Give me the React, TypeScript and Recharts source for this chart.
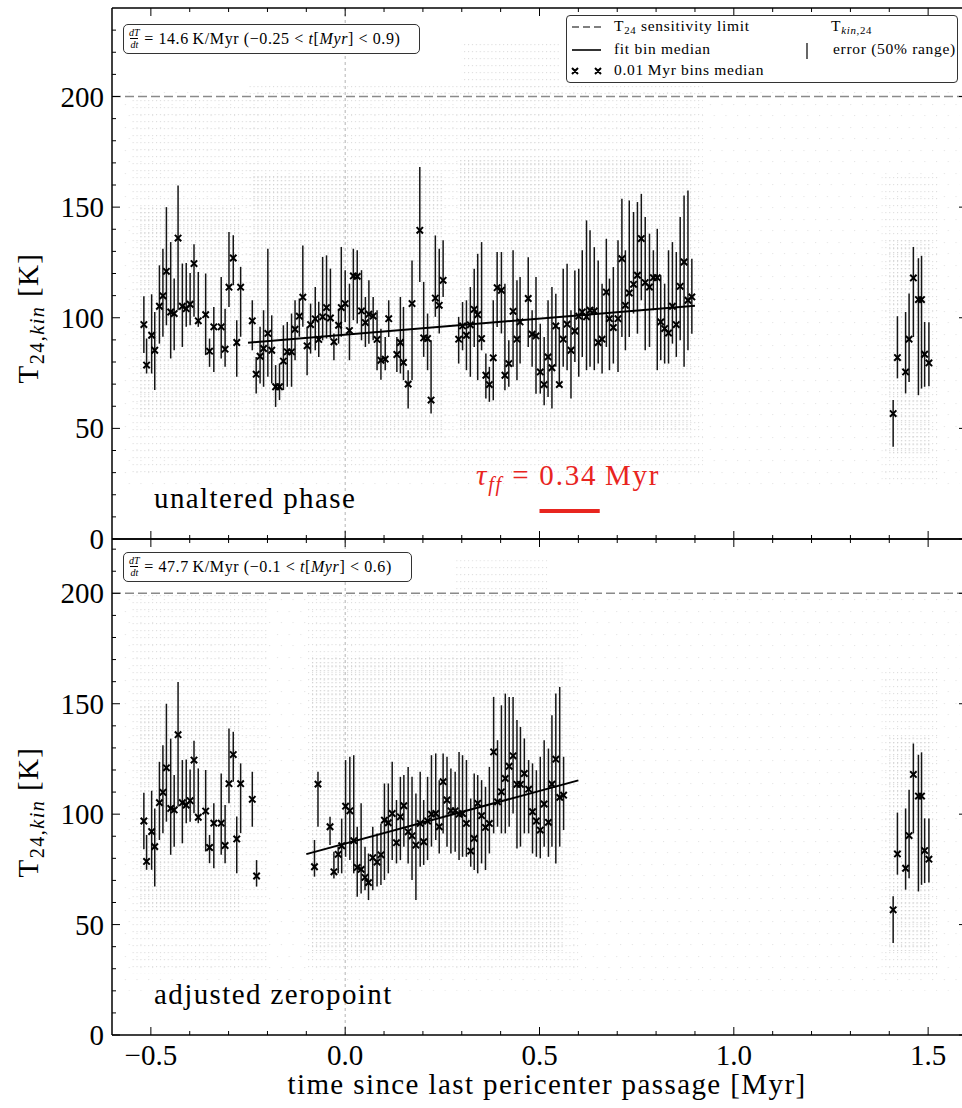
import React from 'react';
import {
  ComposedChart,
  Scatter,
  ErrorBar,
  Line,
  XAxis,
  YAxis,
  ReferenceLine,
  ReferenceArea,
} from 'recharts';

const FONT = '"Liberation Serif", "DejaVu Serif", serif';

// rows: [time (Myr), median T, lower 25%, upper 75%]
type Row = [number, number, number, number];

const leftCluster: Row[] = [
  [-0.518, 96.9, 84.1, 109.7],
  [-0.511, 78.6, 74.8, 90.6],
  [-0.498, 92.1, 74.8, 110.6],
  [-0.49, 85.3, 67.3, 102.6],
  [-0.478, 105.2, 88.3, 123.7],
  [-0.469, 109.9, 91.4, 131.2],
  [-0.46, 121.0, 96.6, 150.0],
  [-0.449, 102.6, 81.6, 134.2],
  [-0.44, 101.9, 85.3, 117.7],
  [-0.43, 136.0, 103.4, 159.8],
  [-0.419, 105.2, 86.8, 124.5],
  [-0.409, 104.1, 95.9, 124.8],
  [-0.399, 106.1, 96.6, 120.2],
  [-0.389, 124.5, 100.4, 133.2],
  [-0.378, 98.6, 95.9, 120.7],
  [-0.359, 101.4, 83.1, 120.0],
  [-0.349, 84.9, 77.8, 90.6],
  [-0.338, 95.9, 75.5, 104.9],
  [-0.319, 95.9, 81.6, 118.4],
  [-0.309, 85.8, 77.8, 104.1],
  [-0.299, 113.8, 104.9, 138.8],
  [-0.288, 127.0, 114.7, 137.3],
  [-0.279, 88.8, 73.3, 98.9],
  [-0.269, 113.8, 91.4, 123.0],
];

const topMiddle: Row[] = [
  [-0.239, 98.6, 85.3, 107.9],
  [-0.229, 74.5, 65.8, 82.3],
  [-0.219, 82.6, 70.3, 95.9],
  [-0.21, 86.1, 68.8, 103.4],
  [-0.199, 92.9, 73.3, 131.2],
  [-0.189, 85.3, 70.3, 101.1],
  [-0.179, 68.8, 59.7, 78.6],
  [-0.169, 68.8, 62.8, 79.3],
  [-0.159, 80.4, 67.3, 96.6],
  [-0.149, 84.6, 68.8, 98.1],
  [-0.138, 84.6, 68.8, 101.9],
  [-0.129, 94.8, 80.8, 107.9],
  [-0.118, 100.7, 91.4, 108.7],
  [-0.109, 109.3, 95.9, 132.7],
  [-0.098, 87.3, 74.0, 95.9],
  [-0.089, 96.9, 83.8, 106.4],
  [-0.077, 99.5, 85.3, 113.9],
  [-0.068, 90.2, 82.3, 107.2],
  [-0.058, 100.4, 89.8, 127.5],
  [-0.048, 104.6, 90.6, 128.2],
  [-0.038, 99.9, 90.6, 122.2],
  [-0.029, 89.1, 80.8, 92.9],
  [-0.017, 96.6, 88.3, 104.1],
  [-0.01, 104.6, 91.4, 132.0],
  [0.0, 106.4, 98.1, 121.5],
  [0.011, 94.2, 80.8, 115.4],
  [0.021, 118.9, 98.9, 131.2],
  [0.031, 118.7, 97.4, 130.5],
  [0.042, 103.1, 89.8, 121.5],
  [0.052, 97.8, 86.8, 109.4],
  [0.061, 101.6, 88.3, 116.9],
  [0.072, 100.8, 89.8, 109.4],
  [0.082, 90.2, 76.3, 103.4],
  [0.092, 80.8, 72.0, 95.0],
  [0.103, 81.3, 76.3, 91.3],
  [0.112, 99.6, 91.3, 107.9],
  [0.133, 83.4, 75.5, 91.3],
  [0.142, 88.8, 74.8, 109.4],
  [0.15, 79.8, 71.8, 104.9],
  [0.162, 70.0, 59.0, 76.3],
  [0.172, 106.4, 71.8, 125.9],
  [0.192, 139.5, 116.2, 168.1],
  [0.202, 90.9, 82.3, 116.2],
  [0.212, 90.6, 76.3, 101.9],
  [0.221, 62.8, 56.7, 89.8],
  [0.232, 108.9, 100.4, 137.2],
  [0.242, 105.6, 92.9, 131.2],
  [0.252, 116.9, 109.4, 135.0],
  [0.292, 90.3, 79.3, 100.4],
  [0.302, 96.3, 85.3, 107.1],
  [0.312, 92.1, 76.3, 107.9],
  [0.322, 96.8, 73.3, 113.9],
  [0.332, 103.8, 86.8, 122.2],
  [0.341, 101.4, 71.8, 128.9],
  [0.351, 90.6, 85.3, 134.2],
  [0.362, 74.0, 63.5, 83.8],
  [0.371, 69.8, 62.0, 77.8],
  [0.381, 81.9, 62.7, 107.9],
  [0.391, 113.6, 95.8, 129.7],
  [0.402, 112.4, 92.9, 129.7],
  [0.411, 74.0, 67.2, 115.4],
  [0.421, 79.3, 68.8, 89.8],
  [0.432, 102.9, 77.8, 130.5],
  [0.442, 90.3, 71.8, 116.9],
  [0.45, 98.1, 79.3, 118.4],
  [0.471, 108.7, 86.8, 127.4],
  [0.481, 92.6, 77.8, 103.4],
  [0.491, 91.8, 65.7, 118.4],
  [0.502, 75.5, 65.7, 97.3],
  [0.512, 69.8, 60.5, 91.3],
  [0.522, 82.3, 64.2, 107.9],
  [0.532, 77.4, 59.0, 113.9],
  [0.542, 96.3, 77.8, 110.9],
  [0.551, 69.8, 68.8, 95.8],
  [0.561, 90.3, 77.8, 122.2],
  [0.571, 97.1, 76.3, 124.4],
  [0.581, 85.3, 63.5, 103.4],
  [0.591, 94.0, 80.0, 121.4],
  [0.601, 100.7, 73.3, 122.2],
  [0.61, 102.6, 82.3, 130.5],
  [0.621, 100.4, 76.3, 144.0],
  [0.63, 103.4, 77.8, 139.5],
  [0.641, 103.1, 76.3, 131.9],
  [0.651, 88.8, 79.3, 125.9],
  [0.661, 90.3, 74.8, 115.4],
  [0.672, 111.6, 86.8, 135.7],
  [0.68, 99.6, 76.3, 117.7],
  [0.69, 95.6, 79.3, 122.9],
  [0.702, 99.6, 75.5, 135.0],
  [0.712, 126.7, 91.3, 153.8],
  [0.721, 105.6, 85.3, 130.5],
  [0.731, 111.2, 91.3, 153.0],
  [0.742, 115.1, 101.9, 147.8],
  [0.752, 119.2, 92.8, 152.3],
  [0.762, 135.8, 107.9, 156.0],
  [0.772, 115.9, 85.3, 145.5],
  [0.783, 113.9, 86.8, 138.0],
  [0.793, 118.1, 103.4, 130.5],
  [0.803, 118.1, 76.3, 140.2],
  [0.812, 98.1, 80.8, 119.2],
  [0.822, 95.1, 79.3, 115.4],
  [0.832, 93.1, 79.3, 130.5],
  [0.842, 105.2, 88.3, 134.2],
  [0.852, 96.9, 82.3, 129.7],
  [0.862, 114.2, 89.8, 145.5],
  [0.872, 125.2, 77.8, 155.3],
  [0.882, 107.9, 85.3, 157.5],
  [0.892, 109.4, 92.8, 126.7],
];

const rightCluster: Row[] = [
  [1.41, 56.7, 41.7, 62.8],
  [1.421, 82.0, 72.6, 100.7],
  [1.442, 75.5, 65.8, 102.6],
  [1.451, 90.3, 71.0, 111.0],
  [1.462, 118.0, 91.3, 132.0],
  [1.475, 108.2, 65.0, 126.9],
  [1.483, 108.2, 68.0, 128.0],
  [1.491, 83.5, 68.8, 98.1],
  [1.502, 79.6, 69.0, 98.0],
];

const bottomEdge: Row[] = [
  [-0.239, 106.7, 94.3, 119.2],
  [-0.228, 72.0, 67.2, 79.2],
];

const bottomMiddle: Row[] = [
  [-0.079, 76.2, 71.7, 88.3],
  [-0.07, 113.6, 94.3, 119.2],
  [-0.039, 94.3, 86.0, 98.8],
  [-0.029, 73.9, 70.9, 83.0],
  [-0.018, 81.8, 73.2, 85.3],
  [-0.009, 85.7, 73.2, 98.0],
  [0.001, 103.6, 80.7, 124.5],
  [0.012, 101.5, 79.2, 126.0],
  [0.022, 88.0, 73.2, 126.7],
  [0.031, 75.9, 62.6, 94.3],
  [0.041, 75.0, 64.1, 104.9],
  [0.051, 71.4, 65.6, 85.3],
  [0.06, 69.0, 61.1, 82.2],
  [0.071, 80.3, 65.6, 94.3],
  [0.082, 78.3, 67.2, 91.3],
  [0.092, 81.6, 67.9, 95.8],
  [0.101, 97.3, 70.2, 113.9],
  [0.111, 96.1, 73.2, 113.9],
  [0.121, 100.3, 79.2, 123.7],
  [0.132, 87.1, 77.7, 106.4],
  [0.142, 98.8, 79.2, 116.9],
  [0.151, 103.8, 85.3, 117.7],
  [0.162, 92.0, 77.7, 121.4],
  [0.172, 90.2, 70.2, 116.9],
  [0.182, 86.0, 61.1, 109.4],
  [0.193, 95.8, 76.2, 119.2],
  [0.202, 87.5, 77.0, 106.4],
  [0.212, 96.9, 79.2, 116.9],
  [0.222, 100.0, 85.3, 126.7],
  [0.233, 100.3, 88.3, 127.5],
  [0.242, 94.3, 82.2, 115.4],
  [0.252, 114.7, 91.3, 127.5],
  [0.262, 106.4, 85.3, 126.0],
  [0.272, 101.5, 82.2, 120.7],
  [0.283, 101.5, 83.0, 119.2],
  [0.293, 100.0, 79.2, 128.2],
  [0.302, 100.3, 80.7, 126.7],
  [0.312, 95.8, 80.7, 124.5],
  [0.323, 83.3, 76.2, 107.1],
  [0.332, 89.0, 74.7, 118.4],
  [0.341, 104.9, 73.2, 117.7],
  [0.351, 99.3, 77.7, 115.4],
  [0.361, 94.0, 74.7, 112.4],
  [0.371, 95.8, 82.2, 121.4],
  [0.382, 128.2, 91.3, 153.1],
  [0.392, 105.6, 94.3, 133.5],
  [0.402, 110.1, 91.3, 149.3],
  [0.412, 116.2, 91.3, 154.6],
  [0.422, 121.7, 94.3, 153.1],
  [0.432, 126.4, 100.3, 153.1],
  [0.442, 113.5, 84.5, 142.6],
  [0.451, 113.5, 85.3, 139.5],
  [0.461, 118.4, 91.3, 134.3],
  [0.472, 111.3, 91.3, 124.5],
  [0.482, 101.1, 82.2, 123.0],
  [0.492, 96.9, 80.7, 119.9],
  [0.502, 92.8, 80.0, 126.0],
  [0.512, 104.6, 85.3, 133.5],
  [0.523, 96.3, 80.7, 129.7],
  [0.532, 113.6, 85.3, 144.8],
  [0.542, 124.9, 77.7, 154.6],
  [0.552, 107.6, 85.3, 157.6],
  [0.562, 108.6, 92.8, 126.0],
];

// linear fits (end points)
const topFit = [
  { t: -0.25, T: 88.7 },
  { t: 0.9, T: 105.4 },
];
const bottomFit = [
  { t: -0.1, T: 81.9 },
  { t: 0.6, T: 115.3 },
];
const tauBar = [
  { t: 0.5, T: 12.6 },
  { t: 0.655, T: 12.6 },
];

// grey cloud of individual samples: [t0, t1, Tlow, Thigh]
const topCloudDense: Row[] = [
  [-0.53, -0.27, 55, 150],
  [-0.24, 0.25, 45, 165],
  [0.29, 0.89, 48, 172],
  [1.4, 1.51, 38, 135],
];
const topCloudSparse: Row[] = [
  [-0.55, -0.22, 28, 200],
  [-0.25, 0.92, 28, 205],
  [0.3, 0.55, 150, 225],
  [1.38, 1.53, 25, 165],
];
const topCloudFaint: Row[] = [
  [-0.58, 1.58, 20, 205],
];
const bottomCloudDense: Row[] = [
  [-0.53, -0.27, 55, 150],
  [-0.09, 0.56, 38, 172],
  [1.4, 1.51, 38, 135],
];
const bottomCloudSparse: Row[] = [
  [-0.55, -0.2, 28, 200],
  [-0.1, 0.6, 28, 200],
  [0.28, 0.52, 150, 215],
  [1.38, 1.53, 25, 165],
];
const bottomCloudFaint: Row[] = [
  [-0.58, 1.58, 20, 200],
];

const xTicks = [-0.5, -0.4, -0.3, -0.2, -0.1, 0, 0.1, 0.2, 0.3, 0.4, 0.5, 0.6, 0.7, 0.8, 0.9, 1.0, 1.1, 1.2, 1.3, 1.4, 1.5];
const yTicksTop = [0, 10, 20, 30, 40, 50, 60, 70, 80, 90, 100, 110, 120, 130, 140, 150, 160, 170, 180, 190, 200, 210, 220, 230];
const yTicksBottom = [0, 10, 20, 30, 40, 50, 60, 70, 80, 90, 100, 110, 120, 130, 140, 150, 160, 170, 180, 190, 200, 210, 220];
const X_DOMAIN: [number, number] = [-0.6, 1.6];
const Y_DOMAIN_TOP: [number, number] = [0, 240];
const Y_DOMAIN_BOTTOM: [number, number] = [0, 224.6];

const toPoints = (rows: Row[]) =>
  rows.map(([t, med, lo, hi]) => ({ t, T: med, err: [med - lo, hi - med] }));

const isMajorX = (v: number) => Math.abs(v * 2 - Math.round(v * 2)) < 1e-6;
const fmtX = (v: number) => {
  const s = Math.abs(v).toFixed(1);
  return v < -1e-9 ? '\u2212' + s : s;
};

const makeXTick = (dir: number, labels: boolean) => (p: any) => {
  const { x, y, payload } = p;
  const v = payload.value as number;
  const major = isMajorX(v);
  const len = major ? 8 : 4;
  return (
    <g>
      <line x1={x} x2={x} y1={y} y2={y + dir * len} stroke="#000" strokeWidth={1} />
      {labels && major ? (
        <text x={x} y={y + 30} textAnchor="middle" fontFamily={FONT} fontSize={29} fill="#000">
          {fmtX(v)}
        </text>
      ) : null}
    </g>
  );
};

const makeYTick = (dir: number, labels: boolean) => (p: any) => {
  const { x, y, payload } = p;
  const v = payload.value as number;
  const major = v % 50 === 0;
  const len = major ? 8 : 4;
  return (
    <g>
      <line x1={x} x2={x + dir * len} y1={y} y2={y} stroke="#000" strokeWidth={1} />
      {labels && major ? (
        <text x={x - 8} y={y + 10} textAnchor="end" fontFamily={FONT} fontSize={29} fill="#000">
          {String(v)}
        </text>
      ) : null}
    </g>
  );
};

const XMark = (props: any) => {
  const { cx, cy } = props;
  if (cx == null || cy == null) return <g />;
  const s = 3.2;
  return (
    <path
      d={`M${cx - s},${cy - s}L${cx + s},${cy + s}M${cx - s},${cy + s}L${cx + s},${cy - s}`}
      stroke="#000"
      strokeWidth={2}
      fill="none"
    />
  );
};

const CHART_W = 975;

type PanelProps = {
  top: number;
  height: number;
  marginTop: number;
  marginBottom: number;
  yDomain: [number, number];
  yTicks: number[];
  groups: Row[][];
  fit: { t: number; T: number }[];
  dense: Row[];
  sparse: Row[];
  faint: Row[];
  xLabels: boolean;
  showTau: boolean;
};

const cloud = (rows: Row[], fill: string, prefix: string) =>
  rows.map(([a, b, lo, hi], i) => (
    <ReferenceArea
      key={prefix + i}
      x1={a}
      x2={b}
      y1={lo}
      y2={hi}
      fill={fill}
      fillOpacity={1}
      stroke="none"
      ifOverflow="hidden"
    />
  ));

const Panel = (pp: PanelProps) => (
  <div style={{ position: 'absolute', left: 0, top: pp.top }}>
    <ComposedChart
      width={CHART_W}
      height={pp.height}
      margin={{ top: pp.marginTop, right: 7, bottom: pp.marginBottom, left: 111 }}
    >
      <XAxis
        dataKey="t"
        type="number"
        domain={X_DOMAIN}
        allowDataOverflow
        ticks={xTicks}
        interval={0}
        height={1}
        tickSize={0}
        tickMargin={0}
        tickLine={false}
        axisLine={{ stroke: '#000', strokeWidth: 1.5 }}
        tick={makeXTick(-1, pp.xLabels)}
      />
      <XAxis
        xAxisId="top"
        orientation="top"
        dataKey="t"
        type="number"
        domain={X_DOMAIN}
        allowDataOverflow
        ticks={xTicks}
        interval={0}
        height={1}
        tickSize={0}
        tickMargin={0}
        tickLine={false}
        axisLine={{ stroke: '#000', strokeWidth: 1.5 }}
        tick={makeXTick(1, false)}
      />
      <YAxis
        dataKey="T"
        type="number"
        domain={pp.yDomain}
        allowDataOverflow
        ticks={pp.yTicks}
        interval={0}
        width={1}
        tickSize={0}
        tickMargin={0}
        tickLine={false}
        axisLine={{ stroke: '#000', strokeWidth: 1.5 }}
        tick={makeYTick(1, true)}
      />
      <YAxis
        yAxisId="right"
        orientation="right"
        type="number"
        domain={pp.yDomain}
        allowDataOverflow
        ticks={pp.yTicks}
        interval={0}
        width={1}
        tickSize={0}
        tickMargin={0}
        tickLine={false}
        axisLine={{ stroke: '#000', strokeWidth: 1.5 }}
        tick={makeYTick(-1, false)}
      />
      {cloud(pp.faint, 'url(#cloudFaint)', 'f')}
      {cloud(pp.sparse, 'url(#cloudSparse)', 's')}
      {cloud(pp.dense, 'url(#cloudDense)', 'd')}
      <ReferenceLine x={0} stroke="#b4b4b4" strokeDasharray="3 3" strokeWidth={1} />
      <ReferenceLine y={200} stroke="#8a8a8a" strokeDasharray="9 4" strokeWidth={1.5} />
      {pp.groups.map((g, i) => (
        <Scatter
          key={'g' + i}
          data={toPoints(g)}
          dataKey="T"
          shape={XMark}
          isAnimationActive={false}
        >
          <ErrorBar dataKey="err" direction="y" width={0} stroke="#151515" strokeWidth={1.5} isAnimationActive={false} />
        </Scatter>
      ))}
      <Line data={pp.fit} dataKey="T" stroke="#000" strokeWidth={2} dot={false} isAnimationActive={false} />
      {pp.showTau ? (
        <Line data={tauBar} dataKey="T" stroke="#e8251f" strokeWidth={4} dot={false} isAnimationActive={false} />
      ) : null}
    </ComposedChart>
  </div>
);

const Frac = () => (
  <span
    style={{
      display: 'inline-flex',
      flexDirection: 'column',
      alignItems: 'center',
      fontSize: 10,
      fontStyle: 'italic',
      lineHeight: '10px',
      verticalAlign: 'middle',
      letterSpacing: 0,
    }}
  >
    <span>dT</span>
    <span style={{ borderTop: '1px solid #000', paddingTop: 1 }}>dt</span>
  </span>
);

const SlopeBox = (p: { left: number; top: number; width: number; slope: string; lo: string; hi: string }) => (
  <div
    style={{
      position: 'absolute',
      left: p.left,
      top: p.top,
      width: p.width,
      height: 30,
      boxSizing: 'border-box',
      border: '1.3px solid #333',
      borderRadius: 5,
      background: '#fff',
      fontFamily: FONT,
      fontSize: 16,
      letterSpacing: 0.6,
      display: 'flex',
      alignItems: 'center',
      paddingLeft: 5,
      whiteSpace: 'nowrap',
      color: '#000',
    }}
  >
    <Frac />
    <span>
      &nbsp;= {p.slope}&thinsp;K/Myr (&minus;{p.lo} &lt; <i>t</i>[<i>Myr</i>] &lt; {p.hi})
    </span>
  </div>
);

const Sub = (p: { children: React.ReactNode }) => (
  <span style={{ fontSize: '0.7em', position: 'relative', top: '0.3em' }}>{p.children}</span>
);

const Legend = () => {
  const row = (top: number) => ({ position: 'absolute' as const, top, left: 0, height: 20 });
  return (
    <div
      style={{
        position: 'absolute',
        left: 566,
        top: 15,
        width: 392,
        height: 68,
        boxSizing: 'border-box',
        border: '1.3px solid #333',
        borderRadius: 4,
        background: '#fff',
        fontFamily: FONT,
        fontSize: 15.5,
        letterSpacing: 0.7,
        color: '#000',
        whiteSpace: 'nowrap',
      }}
    >
      <svg style={{ position: 'absolute', left: 0, top: 0 }} width={60} height={66}>
        <line x1={5} x2={34} y1={11} y2={11} stroke="#555" strokeWidth={1.3} strokeDasharray="7 4" />
        <line x1={5} x2={34} y1={34} y2={34} stroke="#000" strokeWidth={1.6} />
        <path d="M5,52L11,58M5,58L11,52M28,52L34,58M28,58L34,52" stroke="#000" strokeWidth={2} />
      </svg>
      <svg style={{ position: 'absolute', left: 236, top: 26 }} width={8} height={18}>
        <line x1={4} x2={4} y1={1} y2={17} stroke="#000" strokeWidth={1.2} />
      </svg>
      <div style={{ ...row(1), left: 47 }}>
        T<Sub>24</Sub> sensitivity limit
      </div>
      <div style={{ ...row(1), left: 264 }}>
        T
        <Sub>
          <i>kin</i>,24
        </Sub>
      </div>
      <div style={{ ...row(24), left: 47 }}>fit bin median</div>
      <div style={{ ...row(24), left: 266 }}>error (50% range)</div>
      <div style={{ ...row(45), left: 47 }}>0.01&thinsp;Myr bins median</div>
    </div>
  );
};

const bigText: React.CSSProperties = {
  position: 'absolute',
  fontFamily: FONT,
  fontSize: 29,
  letterSpacing: 1.4,
  whiteSpace: 'nowrap',
  color: '#000',
  lineHeight: 1,
};

const YLabel = (p: { cy: number }) => (
  <div
    style={{
      ...bigText,
      left: 28,
      top: p.cy,
      transform: 'translate(-50%, -50%) rotate(-90deg)',
    }}
  >
    T
    <Sub>
      24,<i>kin</i>
    </Sub>{' '}
    [K]
  </div>
);

export default function App() {
  return (
    <div
      style={{
        position: 'absolute',
        left: 0,
        top: 0,
        width: 962,
        height: 1108,
        overflow: 'hidden',
        background: '#fff',
      }}
    >
      <svg width={0} height={0} style={{ position: 'absolute' }}>
        <defs>
          <pattern id="cloudDense" width={3.9} height={4} patternUnits="userSpaceOnUse">
            <rect x={0} y={0} width={1.2} height={1.3} fill="#d4d4d4" />
          </pattern>
          <pattern id="cloudSparse" width={3.9} height={7} patternUnits="userSpaceOnUse">
            <rect x={0} y={2} width={1.1} height={1.2} fill="#dedede" />
          </pattern>
          <pattern id="cloudFaint" width={11.7} height={23} patternUnits="userSpaceOnUse">
            <rect x={0} y={0} width={1.1} height={1.1} fill="#e4e4e4" />
            <rect x={7.8} y={12} width={1.1} height={1.1} fill="#e4e4e4" />
          </pattern>
        </defs>
      </svg>

      <Panel
        top={0}
        height={560}
        marginTop={7}
        marginBottom={20}
        yDomain={Y_DOMAIN_TOP}
        yTicks={yTicksTop}
        groups={[leftCluster, topMiddle, rightCluster]}
        fit={topFit}
        dense={topCloudDense}
        sparse={topCloudSparse}
        faint={topCloudFaint}
        xLabels={false}
        showTau={true}
      />
      <Panel
        top={530}
        height={578}
        marginTop={8}
        marginBottom={72}
        yDomain={Y_DOMAIN_BOTTOM}
        yTicks={yTicksBottom}
        groups={[leftCluster, bottomEdge, bottomMiddle, rightCluster]}
        fit={bottomFit}
        dense={bottomCloudDense}
        sparse={bottomCloudSparse}
        faint={bottomCloudFaint}
        xLabels={true}
        showTau={false}
      />

      <SlopeBox left={123} top={24} width={297} slope="14.6" lo="0.25" hi="0.9" />
      <SlopeBox left={123} top={552} width={289} slope="47.7" lo="0.1" hi="0.6" />
      <Legend />

      <div style={{ ...bigText, left: 154, top: 484 }}>unaltered phase</div>
      <div style={{ ...bigText, left: 154, top: 980 }}>adjusted zeropoint</div>
      <div style={{ ...bigText, left: 476, top: 461, color: '#e8251f', letterSpacing: 1.8 }}>
        <i>&tau;</i>
        <Sub>
          <i>ff</i>
        </Sub>{' '}
        = 0.34&thinsp;Myr
      </div>

      <YLabel cy={318} />
      <YLabel cy={812} />

      <div style={{ ...bigText, left: 547, top: 1070, transform: 'translateX(-50%)' }}>
        time since last pericenter passage [Myr]
      </div>
    </div>
  );
}
